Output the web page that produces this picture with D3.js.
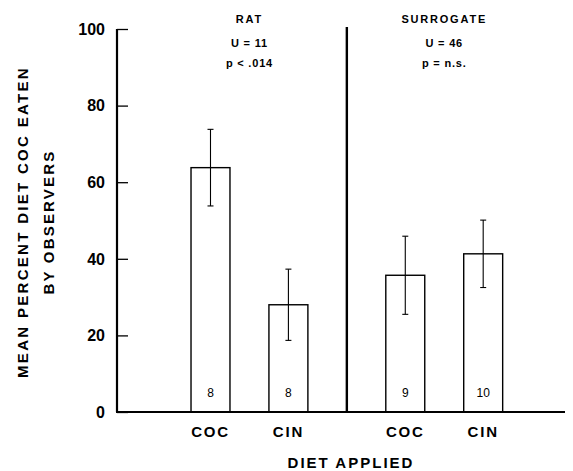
<!DOCTYPE html>
<html>
<head>
<meta charset="utf-8">
<script src="https://cdn.jsdelivr.net/npm/d3@7"></script>
<style>
  body { margin: 0; background: #fff; }
  svg text { font-family: "Liberation Sans", Arial, sans-serif; fill: #000; }
</style>
</head>
<body>
<svg id="chart" width="573" height="471"></svg>
<script>
// values
const groups = ["RAT", "SURROGATE"];
const groupStats = [["U = 11", "p < .014"], ["U = 46", "p = n.s."]];
const diets = ["COC", "CIN", "COC", "CIN"];
const dietGroup = [0, 0, 1, 1];
const means = [63.8, 28.0, 35.7, 41.3];
const errs = [10.0, 9.3, 10.2, 8.8];
const counts = [8, 8, 9, 10];
const yTicks = [0, 20, 40, 60, 80, 100];

const svg = d3.select("#chart");

const x = d3.scaleLinear().domain([0, 11.5]).range([117, 565]);
const y = d3.scaleLinear().domain([0, 100]).range([412, 29]);

// bar slot position: two slots apart in a group, one extra slot between groups
function slot(i) {
    let within = diets.slice(0, i).filter((d, k) => dietGroup[k] === dietGroup[i]).length;
    return 2.4 + dietGroup[i] * 5 + within * 2;
}
const barW = x(1) - x(0);

// y axis
const yAxis = d3.axisRight(y).tickValues(yTicks).tickSize(11).tickFormat("");
const gy = svg.append("g").attr("transform", `translate(${x(0)},0)`).call(yAxis);
gy.select(".domain").remove();
gy.selectAll(".tick line").attr("stroke", "#000").attr("stroke-width", 1.3);

svg.append("line")
    .attr("x1", x(0)).attr("x2", x(0))
    .attr("y1", y(100)).attr("y2", y(0))
    .attr("stroke", "#000").attr("stroke-width", 2.2);

svg.selectAll(".ylab")
    .data(yTicks)
    .enter()
    .append("text")
    .attr("x", 105)
    .attr("y", d => y(d))
    .attr("dy", "0.36em")
    .attr("text-anchor", "end")
    .attr("font-size", 16)
    .attr("font-weight", "bold")
    .text(d => d);

// bars
const bars = svg.selectAll(".bar")
    .data(means)
    .enter()
    .append("g");

bars.append("rect")
    .attr("x", (d, i) => x(slot(i)) - barW / 2)
    .attr("y", d => y(d))
    .attr("width", barW)
    .attr("height", d => y(0) - y(d))
    .attr("fill", "#fff")
    .attr("stroke", "#000")
    .attr("stroke-width", 1.4);

bars.append("line")
    .attr("x1", (d, i) => x(slot(i))).attr("x2", (d, i) => x(slot(i)))
    .attr("y1", (d, i) => y(d + errs[i])).attr("y2", (d, i) => y(d - errs[i]))
    .attr("stroke", "#000").attr("stroke-width", 1.1);

[1, -1].forEach(sign => {
    bars.append("line")
        .attr("x1", (d, i) => x(slot(i)) - 3).attr("x2", (d, i) => x(slot(i)) + 3)
        .attr("y1", (d, i) => y(d + sign * errs[i])).attr("y2", (d, i) => y(d + sign * errs[i]))
        .attr("stroke", "#000").attr("stroke-width", 1.1);
});

bars.append("text")
    .attr("x", (d, i) => x(slot(i)))
    .attr("y", y(0) - 15)
    .attr("text-anchor", "middle")
    .attr("font-size", 12)
    .text((d, i) => counts[i]);

// x axis baseline
svg.append("line")
    .attr("x1", x(0) - 1).attr("x2", x(11.5))
    .attr("y1", y(0)).attr("y2", y(0))
    .attr("stroke", "#000").attr("stroke-width", 2.2);

// divider between groups
svg.append("line")
    .attr("x1", x(5.9)).attr("x2", x(5.9))
    .attr("y1", 27).attr("y2", y(0))
    .attr("stroke", "#000").attr("stroke-width", 2.4);

svg.selectAll(".xlab")
    .data(diets)
    .enter()
    .append("text")
    .attr("x", (d, i) => x(slot(i)))
    .attr("y", 437)
    .attr("text-anchor", "middle")
    .attr("font-size", 15)
    .attr("font-weight", "bold")
    .attr("letter-spacing", 1.8)
    .text(d => d);

// group headers
groups.forEach((g, gi) => {
    let idx = dietGroup.map((v, k) => v === gi ? k : -1).filter(k => k >= 0);
    let cx = (x(slot(idx[0])) + x(slot(idx[idx.length - 1]))) / 2;
    svg.append("text")
        .attr("x", cx).attr("y", 23)
        .attr("text-anchor", "middle")
        .attr("font-size", 11).attr("font-weight", "bold")
        .attr("letter-spacing", 1.8)
        .text(g);
    groupStats[gi].forEach((s, si) => {
        svg.append("text")
            .attr("x", cx).attr("y", 47 + si * 20)
            .attr("text-anchor", "middle")
            .attr("font-size", 11).attr("font-weight", "bold")
            .attr("letter-spacing", 0.8)
            .text(s);
    });
});

// axis titles
svg.append("text")
    .attr("x", 351).attr("y", 468)
    .attr("text-anchor", "middle")
    .attr("font-size", 15).attr("font-weight", "bold")
    .attr("letter-spacing", 2)
    .text("DIET APPLIED");

svg.append("text")
    .attr("transform", "translate(28,222) rotate(-90)")
    .attr("text-anchor", "middle")
    .attr("font-size", 15).attr("font-weight", "bold")
    .attr("letter-spacing", 2.3)
    .text("MEAN PERCENT DIET COC EATEN");

svg.append("text")
    .attr("transform", "translate(54,222) rotate(-90)")
    .attr("text-anchor", "middle")
    .attr("font-size", 15).attr("font-weight", "bold")
    .attr("letter-spacing", 2.2)
    .text("BY OBSERVERS");
</script>
</body>
</html>
